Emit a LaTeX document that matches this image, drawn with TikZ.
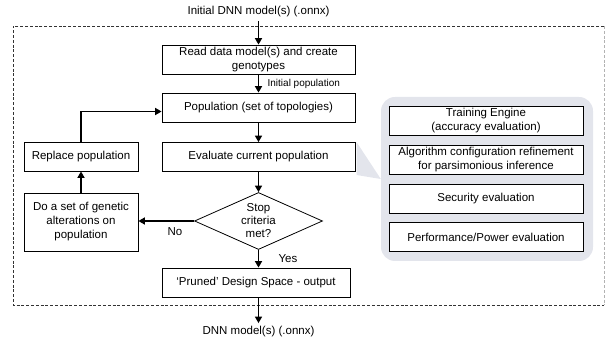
\documentclass[tikz,border=0pt]{standalone}
\usepackage{fontspec}
\setmainfont{Liberation Sans}
\usetikzlibrary{shapes.geometric,arrows.meta,calc}
\definecolor{panelgray}{HTML}{E3E5EC}
\begin{document}
\begin{tikzpicture}[x=1pt,y=-1pt,
  txt/.style={font=\fontsize{11.5}{14}\selectfont},
  small/.style={font=\fontsize{10}{12}\selectfont},
  box/.style={draw,line width=0.8pt,align=center,inner sep=1pt,fill=white,txt},
  arr/.style={line width=1.6pt,-{Triangle[length=6.5pt,width=7pt]}},
  frame/.style={dashed,dash pattern=on 3pt off 1.8pt,line width=0.6pt}]
\useasboundingbox (0,0) rectangle (606,339);
% frame
\draw[frame,black!80] (604,26) -- (13,26) -- (13,305) -- (604,305);
\draw[frame,black!30] (604,26) -- (604,305);
% grey panel and pointer
\node[fill=panelgray,rounded corners=14pt,minimum width=212pt,minimum height=164pt,inner sep=0pt] (panel) at (487,179) {};
\fill[panelgray] (356.5,142) -- (356.5,175) -- (panel.west) -- cycle;
% main column
\node[txt] (in) at (258.5,12) {Initial DNN model(s) (.onnx)};
\node[box,minimum width=193pt,minimum height=29pt] (read) at (258.5,59.5) {Read data model(s) and create\\genotypes};
\node[box,minimum width=193pt,minimum height=29pt] (pop) at (258.5,107.5) {Population (set of topologies)};
\node[box,minimum width=193pt,minimum height=29pt] (eval) at (258.5,157) {Evaluate current population};
\node[draw,diamond,aspect=2.25,line width=0.8pt,minimum width=128pt,minimum height=57pt,inner sep=0pt,align=center,font=\fontsize{11.5}{13}\selectfont] (dia) at (258.5,221) {Stop\\criteria\\met?};
\node[box,minimum width=188pt,minimum height=29pt] (out) at (256,282.5) {`Pruned' Design Space - output};
\node[txt] (outt) at (258.5,332) {DNN model(s) (.onnx)};
% left column
\node[box,minimum width=114pt,minimum height=29pt] (rep) at (81,156.5) {Replace population};
\node[box,minimum width=114pt,minimum height=58pt] (gen) at (81,222) {Do a set of genetic\\alterations on\\population};
% panel boxes
\node[box,minimum width=194pt,minimum height=29pt] (train) at (486,120.5) {Training Engine\\(accuracy evaluation)};
\node[box,minimum width=194pt,minimum height=29pt] (algo) at (486,159.5) {Algorithm configuration refinement\\for parsimonious inference};
\node[box,minimum width=194pt,minimum height=29pt] (sec) at (486,198.5) {Security evaluation};
\node[box,minimum width=194pt,minimum height=29pt] (perf) at (486,237) {Performance/Power evaluation};
% labels
\node[txt] (yes) at (288,259) {Yes};
\node[txt] (no) at (175,232) {No};
% arrows
\draw[arr] (in.south) -- (read.north);
\draw[arr] (read.south) -- (pop.north) node[midway,right,xshift=5pt,small] (ip) {Initial population};
\draw[arr] (pop.south) -- (eval.north);
\draw[arr] (eval.south) -- (dia.north);
\draw[arr] (dia.south) -- (dia.south |- out.north);
\draw[arr] (dia.south |- out.south) -- (outt.north);
\draw[arr] (dia.west) -- (dia.west -| gen.east);
\draw[arr] (gen.north) -- (rep.south);
\draw[arr] (rep.north) |- ([yshift=-4pt]pop.west);
\end{tikzpicture}
\end{document}
